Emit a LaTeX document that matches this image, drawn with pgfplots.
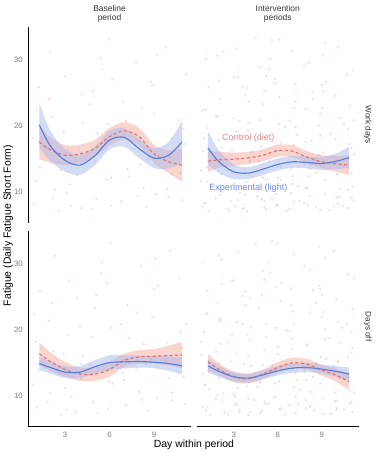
\documentclass[border=0pt]{standalone}
\usepackage{pgfplots}
\pgfplotsset{compat=1.18}
\usepackage{pgfplotstable}
\usepgfplotslibrary{fillbetween}
\usepackage{fontspec}
\setmainfont{Liberation Sans}
\definecolor{blueline}{HTML}{5B7FD9}
\definecolor{redline}{HTML}{E0766C}
\definecolor{bandblue}{HTML}{A9B8EC}
\definecolor{bandred}{HTML}{F5B0A6}
\definecolor{ptred}{HTML}{E39A9A}
\definecolor{ptblue}{HTML}{9AA8DE}
\definecolor{ticklab}{HTML}{7A7A7A}
\definecolor{striplab}{HTML}{333333}

% curves: day, blue mean, blue half-width, red mean, red half-width
\pgfplotstableread{
d b bh r rh
1.25 20.2 3.3 17.6 2.6
2 17.0 2.3 16.4 1.9
3 14.8 1.7 15.6 1.5
4 14.1 1.5 15.8 1.4
5 15.5 1.4 16.6 1.3
6 17.9 1.4 18.4 1.3
7 18.3 1.4 19.3 1.3
8 16.6 1.4 18.4 1.3
9 15.15 1.5 15.8 1.4
10 15.6 2.0 14.6 1.7
10.9 17.6 3.2 14.1 2.5
}\TLc
\pgfplotstableread{
d b bh r rh
1.25 16.7 2.5 14.7 1.6
2 14.6 1.7 14.9 1.2
3 13.1 1.1 15.0 1.0
4 12.9 0.9 15.2 0.9
5 13.5 0.9 15.6 0.9
6 14.2 0.9 16.3 0.9
7 14.6 0.9 16.2 0.9
8 14.5 0.9 15.3 0.9
9 14.35 1.0 14.6 1.0
10 14.7 1.2 14.3 1.2
10.85 15.25 1.6 14.1 1.5
}\TRc
\pgfplotstableread{
d b bh r rh
1.25 14.9 1.0 16.4 1.7
2 14.3 0.9 15.2 1.4
3 13.6 0.9 14.0 1.1
4 13.6 0.9 13.3 1.0
5 14.4 1.0 13.3 1.0
6 15.05 1.1 14.0 1.1
7 15.15 1.0 15.4 1.0
8 15.2 0.9 15.9 1.0
9 15.1 0.9 16.0 1.1
10 14.9 1.1 16.1 1.5
10.9 14.55 1.3 16.2 2.0
}\BLc
\pgfplotstableread{
d b bh r rh
1.25 14.55 1.0 15.15 1.2
2 13.7 0.8 14.0 0.9
3 12.9 0.7 12.9 0.8
4 12.7 0.7 12.6 0.7
5 13.2 0.7 13.3 0.7
6 13.8 0.7 14.3 0.8
7 14.2 0.7 15.0 0.8
8 14.3 0.7 14.8 0.8
9 14.05 0.7 13.9 0.8
10 13.7 0.8 13.1 1.0
10.85 13.3 1.0 12.15 1.3
}\BRc

% individual observations
\pgfplotstableread{
xr yr xb yb
1.1 22.4 0.9 8.3
2.2 9.1 1.8 16.7
3.0 27.5 3.3 11.2
3.8 12.6 4.1 24.8
5.2 18.9 4.8 7.4
6.1 8.0 5.9 20.3
6.9 23.7 7.2 13.5
8.1 14.2 7.8 29.6
9.2 30.8 9.1 9.7
9.9 10.5 10.2 18.1
11.0 19.6 10.8 12.9
1.3 13.8 1.2 25.9
2.0 31.2 2.3 10.4
3.2 16.4 2.9 19.2
4.1 7.6 3.7 14.8
4.9 25.3 5.1 9.0
5.8 11.9 6.2 27.1
7.1 20.8 6.8 8.6
7.9 9.4 8.2 22.6
8.8 26.7 9.3 15.6
10.1 15.3 9.8 31.9
10.9 8.8 11.1 17.3
0.8 18.2 1.0 11.7
1.9 24.1 2.1 21.4
3.1 9.9 3.4 7.9
4.2 20.5 4.0 16.1
5.0 14.7 4.7 23.3
6.0 33.1 6.1 12.2
7.3 12.4 7.0 18.7
8.0 17.8 8.3 10.6
9.0 21.9 8.9 26.2
10.2 12.7 10.0 9.3
11.2 27.8 10.7 20.9
2.6 7.2 2.7 13.4
5.5 28.6 5.4 30.2
8.5 7.8 8.6 14.9
}\Lpts
\pgfplotstableread{
xr yr xb yb
1.0 8.4 1.2 19.7
1.8 21.6 2.1 9.6
2.9 13.1 3.0 27.4
3.9 25.8 3.8 11.5
5.1 7.7 4.9 16.9
6.2 17.4 6.0 8.1
7.0 11.3 7.1 22.8
7.8 29.1 8.2 14.1
9.1 15.9 8.9 7.3
10.0 9.2 9.9 24.6
10.9 23.1 11.1 10.8
0.9 16.2 0.8 13.3
2.2 10.1 1.9 30.7
3.2 31.7 3.3 8.8
4.1 14.5 4.2 18.4
4.8 20.9 5.2 12.0
5.9 9.8 5.8 26.5
7.2 26.3 6.9 9.9
8.0 8.1 7.9 17.6
8.9 18.6 9.2 11.9
10.1 12.8 10.2 21.2
11.1 28.4 10.8 7.6
1.2 11.6 1.1 22.5
2.0 26.9 2.2 12.7
2.8 8.6 3.1 15.2
4.0 19.3 3.9 7.1
5.0 12.2 4.8 28.9
6.1 24.4 6.2 13.8
6.8 7.4 7.2 19.8
8.2 13.6 7.8 8.4
9.0 22.7 9.1 25.3
9.8 7.9 10.0 14.4
11.0 16.6 11.0 9.1
1.1 30.2 0.9 7.8
2.1 14.8 2.0 17.9
3.0 21.2 3.2 10.3
3.8 9.6 4.0 23.7
5.2 27.6 5.1 8.7
6.0 13.9 5.9 16.3
7.1 17.1 7.0 31.4
7.9 10.7 8.1 12.4
9.2 32.6 8.8 20.1
10.0 15.1 10.1 8.2
10.8 10.4 11.2 15.8
1.3 7.1 1.4 11.0
2.4 18.1 2.6 7.5
3.6 7.5 3.4 20.8
4.4 11.4 4.6 9.4
5.6 8.9 5.4 14.6
6.5 19.9 6.6 7.2
7.5 8.7 7.4 10.9
8.6 12.9 8.4 24.1
9.5 7.3 9.6 18.8
10.5 20.3 10.4 7.9
4.5 33.4 5.6 33.0
8.4 25.1 3.6 26.0
}\Rpts

\newcommand{\curves}[2]{%
  \addplot[name path=#2bu, draw=none, smooth] table[x=d, y expr=\thisrow{b}+\thisrow{bh}]{#1};
  \addplot[name path=#2bl, draw=none, smooth] table[x=d, y expr=\thisrow{b}-\thisrow{bh}]{#1};
  \addplot[name path=#2ru, draw=none, smooth] table[x=d, y expr=\thisrow{r}+\thisrow{rh}]{#1};
  \addplot[name path=#2rl, draw=none, smooth] table[x=d, y expr=\thisrow{r}-\thisrow{rh}]{#1};
  \addplot[fill=bandred, fill opacity=0.55, draw=none] fill between[of=#2ru and #2rl];
  \addplot[fill=bandblue, fill opacity=0.5, draw=none] fill between[of=#2bu and #2bl];
  \addplot[redline, line width=1.15pt, dash pattern=on 3.2pt off 2.4pt, smooth] table[x=d, y=r]{#1};
  \addplot[blueline, line width=1.15pt, smooth] table[x=d, y=b]{#1};
}
\pgfplotsset{
  ptR/.style={only marks, mark=*, color=ptred, mark size=1.4pt, draw opacity=0, fill opacity=0.3,
     mark options={draw opacity=0, fill=ptred, fill opacity=0.3}},
  ptB/.style={only marks, mark=*, color=ptblue, mark size=1.4pt, draw opacity=0, fill opacity=0.3,
     mark options={draw opacity=0, fill=ptblue, fill opacity=0.3}},
}
\newcommand{\pointsA}[1]{%
  \addplot[ptR] table[x=xr, y=yr]{#1};
  \addplot[ptB] table[x=xb, y=yb]{#1};
}
\newcommand{\pointsB}[1]{%
  \addplot[ptR] table[x=xb, y=yr]{#1};
  \addplot[ptB] table[x=xr, y=yb]{#1};
}

\pgfplotsset{
  panel/.style={
    scale only axis, height=196bp,
    xmin=0.5, xmax=11.5, ymin=5.4, ymax=35,
    xtick={3,6,9}, ytick={10,20,30},
    major tick length=0pt,
    tick label style={font=\fontsize{7.8}{9}\selectfont, text=ticklab},
    /pgf/number format/assume math mode=true,
    axis line style={black, line width=0.9pt},
    xticklabel style={yshift=-2bp},
    yticklabel style={xshift=-2bp},
    anchor=south west,
  }
}

\begin{document}
\begin{tikzpicture}[x=1bp,y=1bp]

% top-left
\begin{axis}[panel, at={(27bp,230bp)}, width=163bp, axis x line=none, axis y line*=left]
  \pointsA{\Lpts}
  \curves{\TLc}{tl}
\end{axis}
% top-right
\begin{axis}[panel, at={(196bp,230bp)}, width=162bp, axis x line=none, axis y line=none]
  \pointsA{\Rpts}
  \pointsB{\Lpts}
  \curves{\TRc}{tr}
  \node[text=redline!85, font=\fontsize{9.1}{10}\selectfont] at (axis cs:4.0,18.2) {Control (diet)};
  \node[text=blueline!90, font=\fontsize{9.1}{10}\selectfont] at (axis cs:4.0,10.6) {Experimental (light)};
\end{axis}
% bottom-left
\begin{axis}[panel, at={(27bp,26bp)}, width=163bp, axis x line*=bottom, axis y line*=left]
  \pointsB{\Lpts}
  \curves{\BLc}{bl}
\end{axis}
% bottom-right
\begin{axis}[panel, at={(196bp,26bp)}, width=162bp, axis x line*=bottom, axis y line=none]
  \pointsB{\Rpts}
  \pointsA{\Lpts}
  \curves{\BRc}{br}
\end{axis}

% strip labels
\node[text=striplab, align=center, font=\fontsize{8.5}{8.8}\selectfont] at (108.5,439.5) {Baseline\\period};
\node[text=striplab, align=center, font=\fontsize{8.5}{8.8}\selectfont] at (277,439.5) {Intervention\\periods};
\node[text=striplab, rotate=-90, font=\fontsize{8.2}{9}\selectfont] at (367,328) {Work days};
\node[text=striplab, rotate=-90, font=\fontsize{8.2}{9}\selectfont] at (367,126) {Days off};

% axis titles
\node[rotate=90, font=\fontsize{10.5}{12}\selectfont] at (7,227) {Fatigue (Daily Fatigue Short Form)};
\node[font=\fontsize{10.5}{12}\selectfont] at (193,7.5) {Day within period};
\path (0,0) rectangle (376,453);
\end{tikzpicture}
\end{document}
